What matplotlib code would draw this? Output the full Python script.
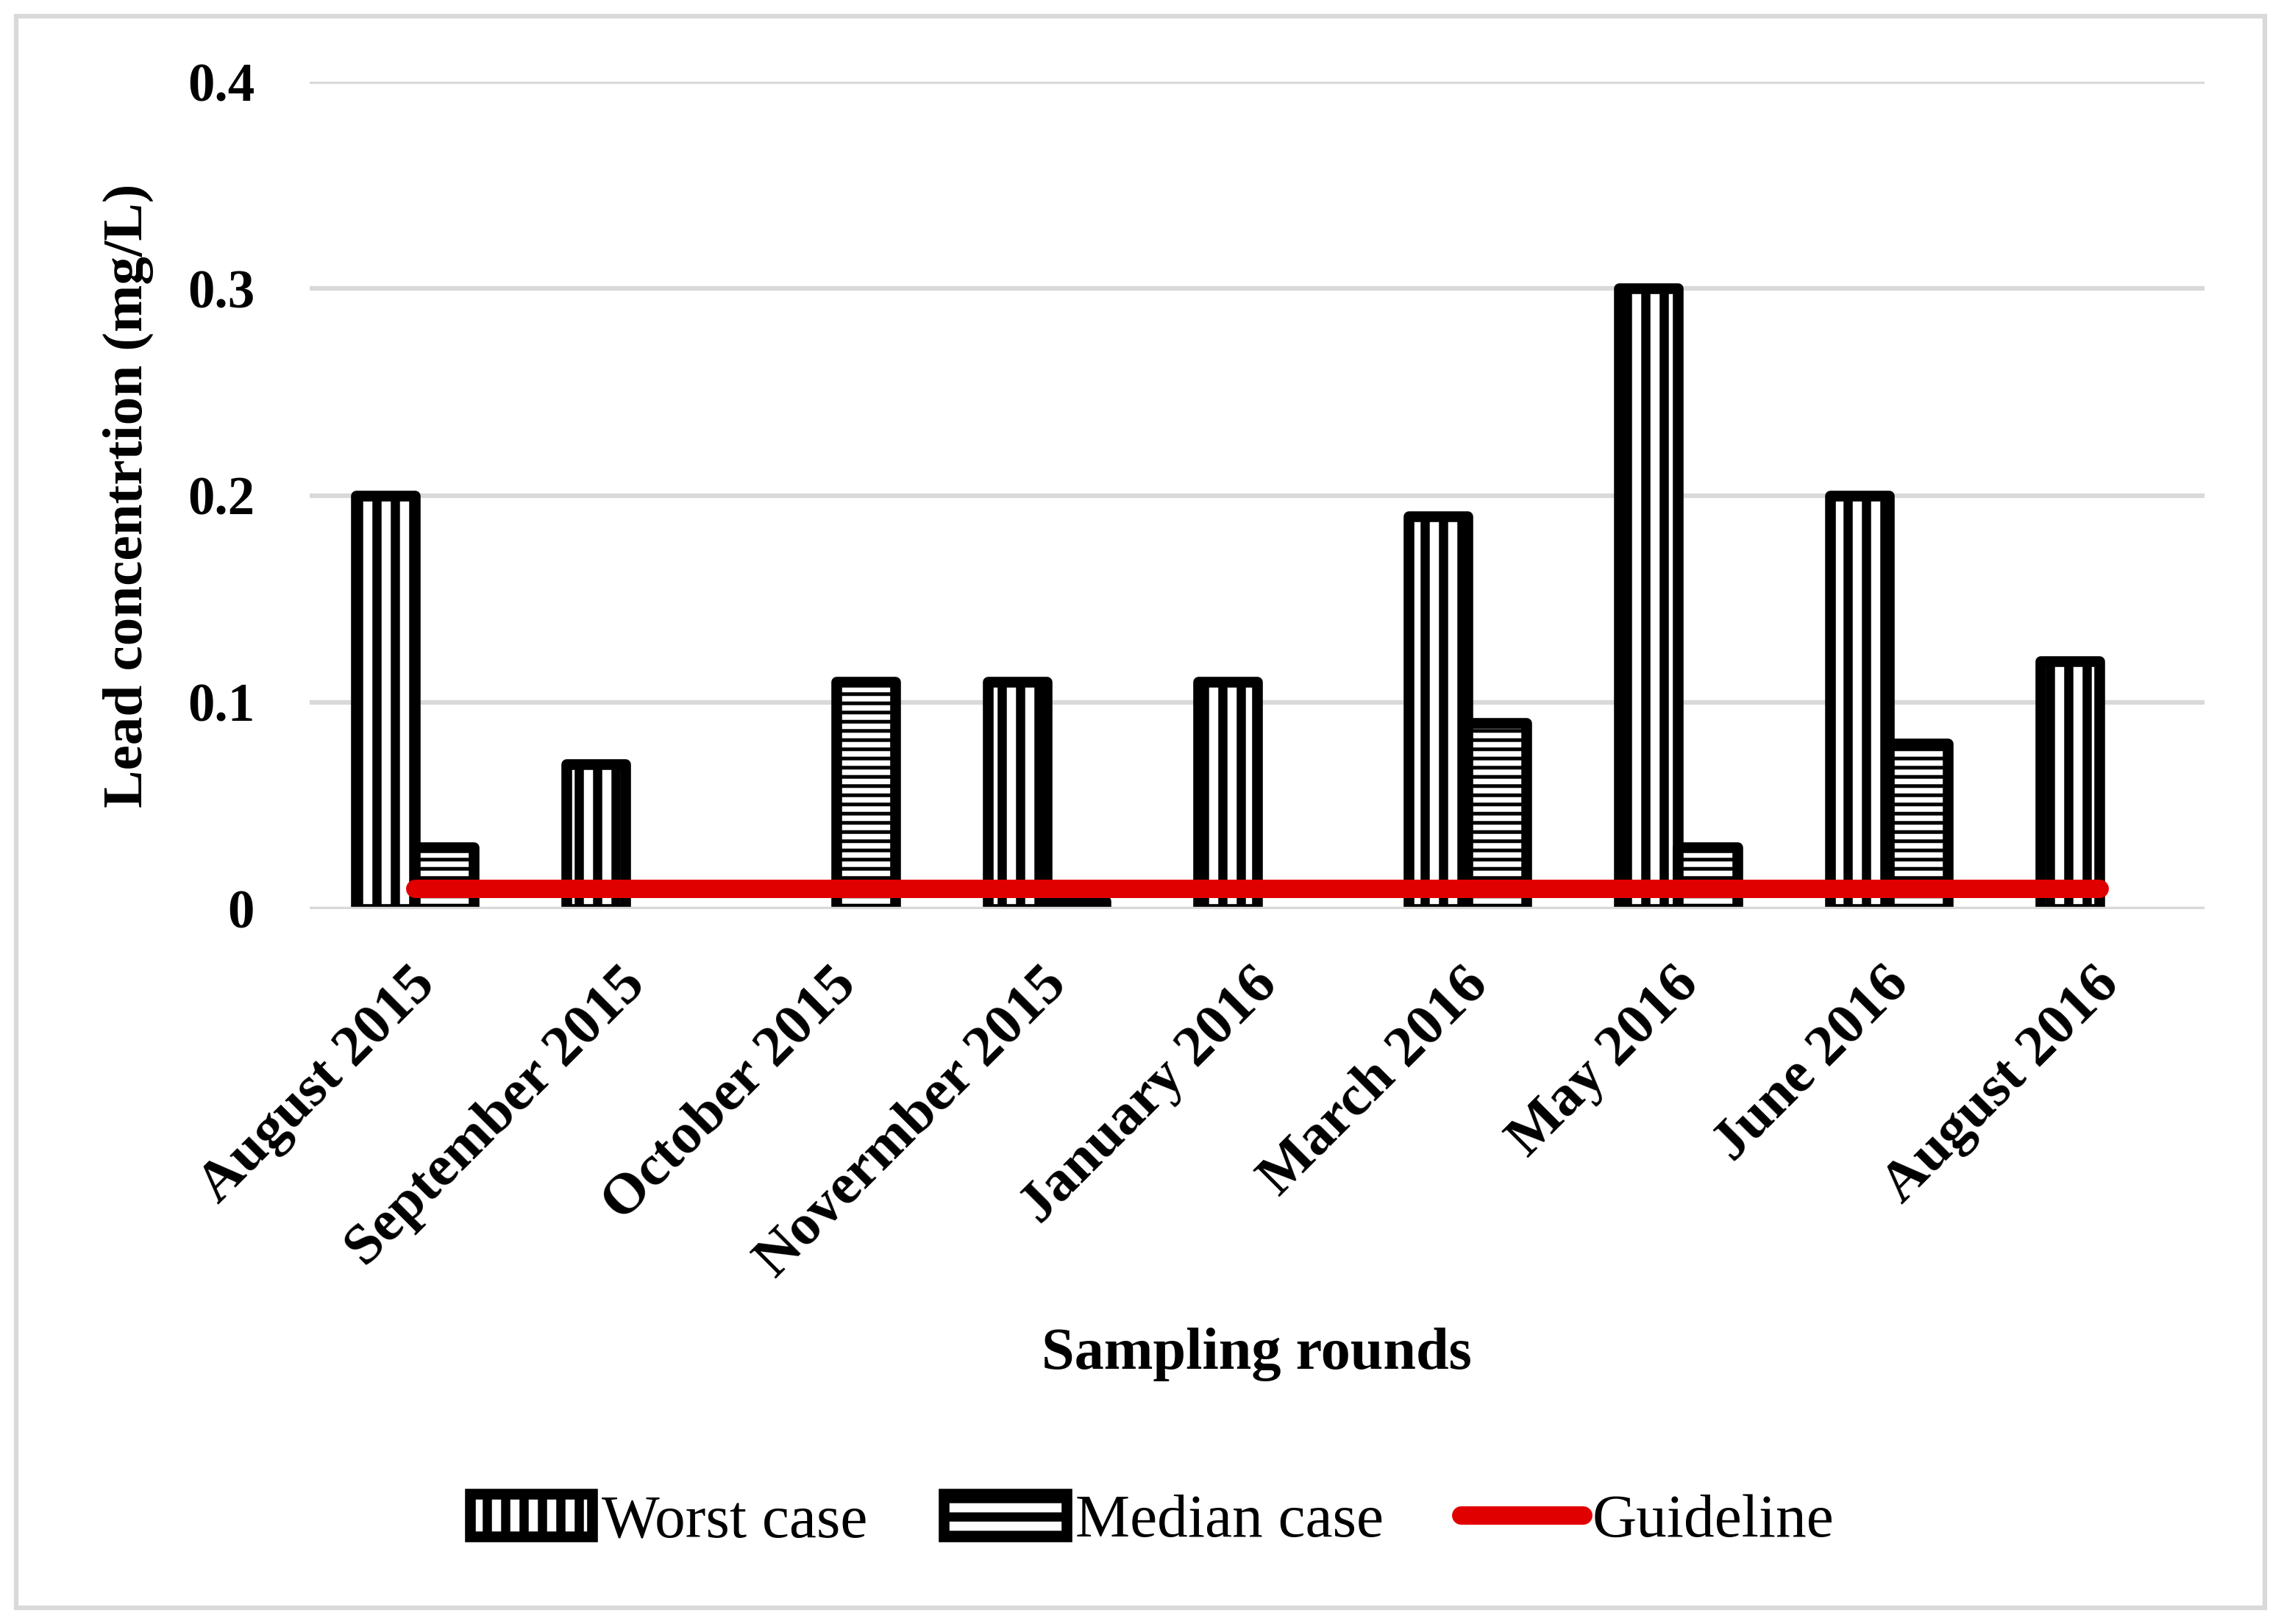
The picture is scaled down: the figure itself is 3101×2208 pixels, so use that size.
import numpy as np
import matplotlib
matplotlib.use("Agg")
import matplotlib.pyplot as plt
from matplotlib.lines import Line2D
from matplotlib.patches import Rectangle
from matplotlib.transforms import ScaledTranslation

rounds = ["August 2015", "September 2015", "October 2015", "Novermber 2015",
          "January 2016", "March 2016", "May 2016", "June 2016", "August 2016"]
worst = [0.20, 0.07, np.nan, 0.11, 0.11, 0.19, 0.30, 0.20, 0.12]
median = [0.03, np.nan, 0.11, 0.004, np.nan, 0.09, 0.03, 0.08, np.nan]
guideline = [0.01] * len(rounds)
yticks = [0, 0.1, 0.2, 0.3, 0.4]
ytick_labels = ["0", "0.1", "0.2", "0.3", "0.4"]

plt.rcParams['font.family'] = ['Liberation Serif', 'DejaVu Serif']
plt.rcParams['hatch.color'] = 'black'

fig = plt.figure(figsize=(3101/150, 2208/150), dpi=150)
ax = fig.add_axes([421/3101, 1-1236/2208, (2997-421)/3101, (1236-111)/2208])

x = np.arange(len(rounds))
w = 0.28


def set_hlw(p, hlw):
    if hasattr(p, 'set_hatch_linewidth'):
        p.set_hatch_linewidth(hlw)


def hatched_bars(xs, vals, hatch, hlw):
    with plt.rc_context({'hatch.linewidth': hlw}):
        bars = ax.bar(xs, vals, w, facecolor='white', edgecolor='black',
                      linewidth=7, hatch=hatch, joinstyle='round', zorder=2)
    for b in bars:
        set_hlw(b, hlw)
    return bars


bw = hatched_bars(x - w/2, worst, '|', 6)
bm = hatched_bars(x + w/2, median, '--', 2.4)

ax.plot(x, guideline, color='#e00000', lw=12, solid_capstyle='round', zorder=4)
ax.axhline(0, color='#d9d9d9', lw=3, zorder=3)

ax.set_xlim(-0.5, len(rounds) - 0.5)
ax.set_ylim(0, 0.4)
ax.set_yticks(yticks)
ax.set_yticklabels(ytick_labels, fontsize=35, fontweight='bold')
ax.set_xticks(x)
ax.set_xticklabels(rounds, fontsize=38, fontweight='bold', rotation=45,
                   ha='right', va='center', rotation_mode='anchor')
ax.tick_params(length=0)
ax.tick_params(axis='y', pad=36)
ax.tick_params(axis='x', pad=44)
for lab in ax.get_xticklabels():
    lab.set_transform(lab.get_transform() + ScaledTranslation(8/72, 0, fig.dpi_scale_trans))
ax.grid(axis='y', color='#d9d9d9', lw=3, zorder=0)
ax.set_axisbelow(True)
for s in ax.spines.values():
    s.set_visible(False)

ax.set_ylabel("Lead concentrtion (mg/L)", fontsize=37, fontweight='bold', labelpad=22)
fig.text(0.551, 1-1841/2208, "Sampling rounds", fontsize=38.5, fontweight='bold',
         ha='center', va='center')

# legend (handles are rebuilt by the legend, so keep the rc context around it)
with plt.rc_context({'hatch.linewidth': 6}):
    hw = Rectangle((0, 0), 1, 1, facecolor='white', edgecolor='black', lw=7, hatch='|')
    hm = Rectangle((0, 0), 1, 1, facecolor='white', edgecolor='black', lw=7, hatch='-')
    hg = Line2D([0], [0], color='#e00000', lw=12, solid_capstyle='round')
    leg = fig.legend([hw, hm, hg], ["Worst case", "Median case", "Guideline"], ncol=3,
                     loc='center', bbox_to_anchor=(0.505, 1-2069/2208), frameon=False,
                     fontsize=40, handlelength=2.0, handletextpad=0.15, columnspacing=1.25)
for h in leg.legend_handles[:2]:
    set_hlw(h, 6)

fig.add_artist(Rectangle((22/3101, 22/2208), 1-44/3101, 1-44/2208, transform=fig.transFigure,
                         fill=False, edgecolor='#d9d9d9', lw=3))

fig.savefig("out.png", dpi=150)
